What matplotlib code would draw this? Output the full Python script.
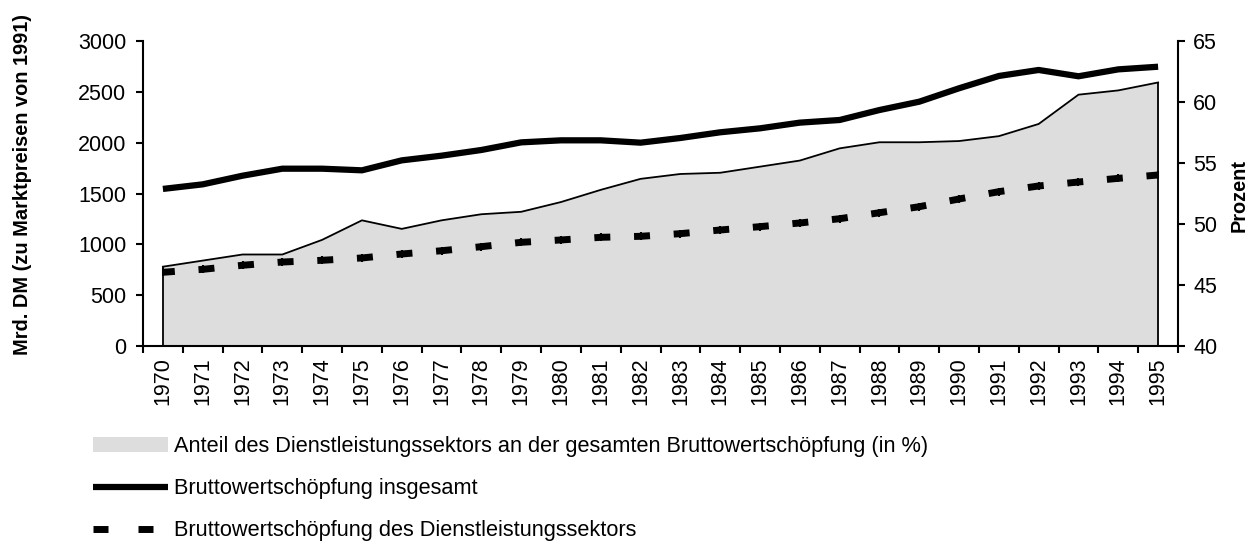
import numpy as np
import matplotlib
matplotlib.use("Agg")
import matplotlib.pyplot as plt
from matplotlib.lines import Line2D
from matplotlib.patches import Patch
from matplotlib.transforms import Bbox, TransformedBbox

plt.rcParams['font.family'] = ['Liberation Sans', 'DejaVu Sans']
plt.rcParams['lines.scale_dashes'] = False

years = [str(y) for y in range(1970, 1996)]
bws_total = [1545, 1590, 1675, 1744, 1744, 1728, 1826, 1872, 1928, 2003,
             2023, 2023, 2000, 2046, 2102, 2141, 2197, 2223, 2321, 2403,
             2535, 2656, 2715, 2653, 2721, 2747]
bws_dienst = [725, 754, 794, 826, 843, 866, 905, 937, 977, 1020,
              1043, 1069, 1079, 1105, 1141, 1174, 1210, 1252, 1311, 1370,
              1446, 1518, 1574, 1613, 1649, 1682]
anteil_pct = [46.5, 47.0, 47.5, 47.5, 48.7, 50.3, 49.6, 50.3, 50.8, 51.0,
              51.8, 52.8, 53.7, 54.1, 54.2, 54.7, 55.2, 56.2, 56.7, 56.7,
              56.8, 57.2, 58.2, 60.6, 60.95, 61.6]
left_ticks = [0, 500, 1000, 1500, 2000, 2500, 3000]
right_ticks = [40, 45, 50, 55, 60, 65]

labels = ["Anteil des Dienstleistungssektors an der gesamten Bruttowertschöpfung (in %)",
          "Bruttowertschöpfung insgesamt",
          "Bruttowertschöpfung des Dienstleistungssektors"]

W, H = 1252, 541
fig = plt.figure(figsize=(W / 100, H / 100), dpi=100)
ax = fig.add_axes([143 / W, (H - 346) / H, (1178 - 143) / W, (346 - 41) / H])
ax2 = ax.twinx()

x = np.arange(len(years))
fill_c = '#dddddd'
fs = 15.5

# area on right axis
ax2.fill_between(x, anteil_pct, right_ticks[0], color=fill_c, lw=0)
ax2.plot(x, anteil_pct, color='k', lw=1.3)
ax2.vlines([x[0], x[-1]], right_ticks[0], [anteil_pct[0], anteil_pct[-1]], color='k', lw=1.3)
ax2.set_ylim(right_ticks[0], right_ticks[-1])
ax2.set_yticks(right_ticks)

# lines on left axis
ax.plot(x, bws_total, color='k', lw=4.5, solid_capstyle='butt')
ax.plot(x, bws_dienst, color='k', lw=5, ls=(2.9, (11.5, 17.1)),
        marker='|', ms=6, mew=1.5)
ax.set_ylim(left_ticks[0], left_ticks[-1])
ax.set_yticks(left_ticks)
ax.set_xlim(-0.5, len(years) - 0.5)
ax.set_xticks(x)
ax.set_xticklabels(years, rotation=90)
ax.set_xticks(np.arange(-0.5, len(years), 1.0), minor=True)

ax.set_zorder(ax2.get_zorder() + 1)
ax.patch.set_visible(False)

for s in ['top', 'right']:
    ax.spines[s].set_visible(False)
for s in ['top', 'left', 'bottom']:
    ax2.spines[s].set_visible(False)
ax.spines['left'].set_linewidth(1.5)
ax.spines['bottom'].set_linewidth(1.5)
ax2.spines['right'].set_linewidth(1.5)

ax.tick_params(axis='y', direction='out', length=5, width=1.5, pad=7, labelsize=fs)
ax.tick_params(axis='x', which='major', length=0, pad=8, labelsize=fs)
ax.tick_params(axis='x', which='minor', direction='out', length=5, width=1.5)
ax2.tick_params(axis='y', direction='out', length=5, width=1.5, pad=6, labelsize=fs)

t = fig.text(23 / W, (H - 355) / H, "Mrd. DM (zu Marktpreisen von 1991)", rotation=90,
             ha='center', va='bottom', fontsize=14.4, fontweight='bold')
t.set_clip_box(TransformedBbox(Bbox([[0, 0], [1, (H - 14) / H]]), fig.transFigure))
t.set_clip_on(True)
fig.text(1239 / W, (H - 196) / H, "Prozent", rotation=90,
         ha='center', va='center', fontsize=14.4, fontweight='bold')

handles = [Patch(facecolor=fill_c, edgecolor='none'),
           Line2D([], [], color='k', lw=4.5, solid_capstyle='butt'),
           Line2D([], [], color='k', lw=5, ls=(0, (10.8, 21.6)))]
fig.legend(handles, labels, loc='upper left', bbox_to_anchor=(93 / W, (H - 436) / H),
           frameon=False, fontsize=15.7, handlelength=3.45, handletextpad=0.28,
           labelspacing=0.97, borderaxespad=0, borderpad=0)

fig.savefig("out.png", dpi=100)
